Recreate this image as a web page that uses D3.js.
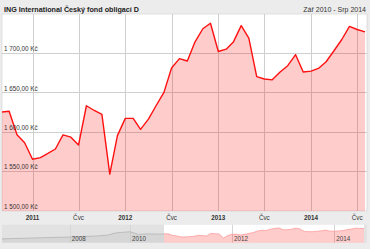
<!DOCTYPE html>
<html>
<head>
<meta charset="utf-8">
<script src="https://cdn.jsdelivr.net/npm/d3@7"></script>
<style>
  html, body { margin: 0; padding: 0; background: #ececec; }
  svg { display: block; font-family: "Liberation Sans", Arial, sans-serif; }
</style>
</head>
<body>
<div class="canvas"></div>
<script>
// hodnoty fondu (měsíčně, Zář 2010 - Srp 2014)
const months = [
  "2010-09","2010-10","2010-11","2010-12",
  "2011-01","2011-02","2011-03","2011-04","2011-05","2011-06","2011-07","2011-08","2011-09","2011-10","2011-11","2011-12",
  "2012-01","2012-02","2012-03","2012-04","2012-05","2012-06","2012-07","2012-08","2012-09","2012-10","2012-11","2012-12",
  "2013-01","2013-02","2013-03","2013-04","2013-05","2013-06","2013-07","2013-08","2013-09","2013-10","2013-11","2013-12",
  "2014-01","2014-02","2014-03","2014-04","2014-05","2014-06","2014-07","2014-08"
];
const prices = [
  1625, 1626, 1596, 1586,
  1565, 1567, 1572, 1578, 1596, 1593, 1583, 1633, 1627, 1622, 1546, 1595,
  1617, 1617, 1603, 1616, 1633, 1650, 1681, 1693, 1690, 1714, 1731, 1738,
  1702, 1705, 1714, 1735, 1719, 1670, 1667, 1666, 1676, 1684, 1698, 1676,
  1677, 1681, 1689, 1703, 1717, 1734, 1730, 1727
];

// starší historie pro navigátor
const histMonths = ["2005-10","2006-06","2007-01","2007-09","2008-01","2008-06","2008-10","2009-01","2009-04","2009-07","2009-10","2010-01","2010-03","2010-05","2010-08"];
const histPrices = [1530, 1540, 1550, 1560, 1565, 1575, 1580, 1590, 1600, 1640, 1655, 1665, 1615, 1625, 1620];

const yTicks = [1500, 1550, 1600, 1650, 1700];
const navTicks = ["2008", "2010", "2012", "2014"];
const title = "ING International Český fond obligací D";
const range = "Zář 2010 - Srp 2014";
const midLabel = "Čvc";

const parse = d3.timeParse("%Y-%m");
const data = months.map((m, i) => ({ date: parse(m), value: prices[i] }));
const hist = histMonths.map((m, i) => ({ date: parse(m), value: histPrices[i] }));

const W = 370, H = 249;
const plot = { left: 2, right: 367, top: 14, bottom: 211 };

const svg = d3.select(".canvas").append("svg")
  .attr("width", W).attr("height", H);

svg.append("rect").attr("width", W).attr("height", H).attr("fill", "#ececec");

// nadpis
svg.append("text").attr("x", 4).attr("y", 11.5)
  .attr("font-size", 7.2).attr("font-weight", "bold").attr("fill", "#222")
  .text(title);
svg.append("text").attr("x", 366).attr("y", 11.5)
  .attr("text-anchor", "end").attr("font-size", 7).attr("fill", "#333")
  .text(range);

const x = d3.scaleTime()
  .domain([parse("2010-09"), parse("2014-08")])
  .range([1.5, 365]);
const y = d3.scaleLinear().domain([1500, 1750]).range([210.3, 13.8]);

// plocha grafu
svg.append("rect")
  .attr("x", plot.left).attr("y", plot.top)
  .attr("width", plot.right - plot.left).attr("height", plot.bottom - plot.top)
  .attr("fill", "#fff").attr("stroke", "#d0d0d0").attr("stroke-width", 0.6);

svg.append("clipPath").attr("id", "clip")
  .append("rect")
  .attr("x", plot.left).attr("y", plot.top)
  .attr("width", plot.right - plot.left).attr("height", plot.bottom - plot.top);

const xTicks = x.ticks(d3.timeMonth.every(6)).filter(d => d >= x.domain()[0]);

// mřížka
svg.append("g").selectAll("line.v")
  .data(xTicks).join("line")
  .attr("x1", d => Math.round(x(d)) + 0.5).attr("x2", d => Math.round(x(d)) + 0.5)
  .attr("y1", plot.top).attr("y2", plot.bottom)
  .attr("stroke", "#cfcfcf").attr("stroke-width", 1);

svg.append("g").selectAll("line.h")
  .data(yTicks.filter(d => d > 1500)).join("line")
  .attr("x1", plot.left).attr("x2", plot.right)
  .attr("y1", d => Math.round(y(d)) + 0.5).attr("y2", d => Math.round(y(d)) + 0.5)
  .attr("stroke", "#cfcfcf").attr("stroke-width", 1);

const area = d3.area()
  .x(d => x(d.date)).y0(plot.bottom).y1(d => y(d.value));
const line = d3.line()
  .x(d => x(d.date)).y(d => y(d.value));

const g = svg.append("g").attr("clip-path", "url(#clip)");
g.append("path").datum(data)
  .attr("d", area).attr("fill", "rgba(255,0,0,0.2)");
g.append("path").datum(data)
  .attr("d", line).attr("fill", "none")
  .attr("stroke", "#ff1010").attr("stroke-width", 1.4)
  .attr("stroke-linejoin", "round");

// popisky osy y
const fmt = v => d3.format(",.2f")(v).replace(/,/g, " ").replace(".", ",") + " Kč";
svg.append("g").selectAll("text")
  .data(yTicks).join("text")
  .attr("x", 4).attr("y", d => y(d) - 1.8)
  .attr("font-size", 6.3).attr("fill", "#333")
  .text(fmt);

// osa x
svg.append("g").selectAll("text")
  .data(xTicks).join("text")
  .attr("x", d => x(d)).attr("y", 220)
  .attr("text-anchor", "middle").attr("font-size", 6.3).attr("fill", "#333")
  .attr("font-weight", d => d.getMonth() === 0 ? "bold" : "normal")
  .text(d => d.getMonth() === 0 ? d.getFullYear() : midLabel);

// navigátor
const nav = { left: 2, right: 367, top: 224.7, bottom: 242.7 };
const nx = d3.scaleTime()
  .domain([parse("2005-10"), parse("2010-01"), parse("2014-08")])
  .range([2, 130, 364]);
const ny = d3.scaleLinear().domain([1456, 1801]).range([nav.bottom, nav.top]);

svg.append("rect")
  .attr("x", nav.left).attr("y", nav.top)
  .attr("width", nav.right - nav.left).attr("height", nav.bottom - nav.top)
  .attr("fill", "#e2e2e2");
svg.append("rect")
  .attr("x", nx(data[0].date)).attr("y", nav.top)
  .attr("width", nx(data[data.length - 1].date) - nx(data[0].date)).attr("height", nav.bottom - nav.top)
  .attr("fill", "#fff");

svg.append("g").selectAll("line")
  .data(navTicks).join("line")
  .attr("x1", d => Math.round(nx(parse(d + "-01"))) + 0.5)
  .attr("x2", d => Math.round(nx(parse(d + "-01"))) + 0.5)
  .attr("y1", nav.top).attr("y2", nav.bottom)
  .attr("stroke", "#d6d6d6");

const navArea = d3.area().x(d => nx(d.date)).y0(nav.bottom).y1(d => ny(d.value));
const navLine = d3.line().x(d => nx(d.date)).y(d => ny(d.value));
const histAll = hist.concat([data[0]]);

svg.append("path").datum(histAll).attr("d", navArea).attr("fill", "rgba(150,150,150,0.15)");
svg.append("path").datum(histAll).attr("d", navLine)
  .attr("fill", "none").attr("stroke", "#b4b4b4").attr("stroke-width", 0.8);
svg.append("path").datum(data).attr("d", navArea).attr("fill", "rgba(255,0,0,0.2)");
svg.append("path").datum(data).attr("d", navLine)
  .attr("fill", "none").attr("stroke", "#ff9a9a").attr("stroke-width", 0.8);

svg.append("g").selectAll("text")
  .data(navTicks).join("text")
  .attr("x", d => nx(parse(d + "-01")) + 2).attr("y", 240.5)
  .attr("font-size", 6.3).attr("fill", "#444")
  .text(d => d);
</script>
</body>
</html>
